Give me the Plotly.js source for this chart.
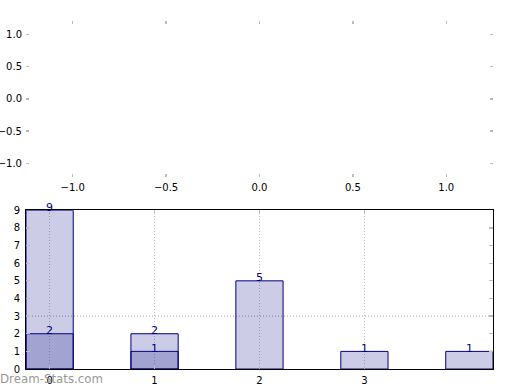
<!DOCTYPE html>
<html>
<head>
<meta charset="utf-8">
<script src="https://cdn.plot.ly/plotly-3.0.1.min.js"></script>
<style>html,body{margin:0;padding:0;background:#fff;}#chart{width:520px;height:390px;}</style>
</head>
<body>
<div id="chart"></div>
<script>
// Data
const categories = [0, 1, 2, 3, 4];
const totals = [9, 2, 5, 1, 1];
const subsetCategories = [0, 1];
const subsetValues = [2, 1];
const referenceLevel = 3;
const xTickVals = [0, 1, 2, 3];
const xTickText = ['0', '1', '2', '3'];
const yTickVals = [0, 1, 2, 3, 4, 5, 6, 7, 8, 9];
const topTicks = [-1.0, -0.5, 0.0, 0.5, 1.0];

const navy = '#000080';
const barFill = 'rgba(0,0,128,0.2)';
const font = {family: 'DejaVu Sans', size: 10, color: '#000'};

const traces = [
  {type: 'scatter', x: [], y: [], xaxis: 'x', yaxis: 'y', showlegend: false, hoverinfo: 'skip'},
  {type: 'bar', x: categories, y: totals, width: 0.45, xaxis: 'x2', yaxis: 'y2',
   marker: {color: barFill, line: {color: navy, width: 1}}, showlegend: false},
  {type: 'bar', x: subsetCategories, y: subsetValues, width: 0.45, xaxis: 'x2', yaxis: 'y2',
   marker: {color: barFill, line: {color: navy, width: 1}}, showlegend: false}
];

const annotations = [];
function addLabels(xs, ys) {
  xs.forEach((c, i) => {
    annotations.push({xref: 'x2', yref: 'y2', x: c, y: ys[i], text: String(ys[i]),
      showarrow: false, xanchor: 'center', yanchor: 'middle', yshift: 3,
      font: {family: 'DejaVu Sans', size: 11, color: navy}});
  });
}
addLabels(categories, totals);
addLabels(subsetCategories, subsetValues);
annotations.push({xref: 'paper', yref: 'paper', x: -0.004, y: 0.027, xanchor: 'left', yanchor: 'middle',
  text: 'Dream-Stats.com', showarrow: false,
  font: {family: 'DejaVu Sans', size: 11.8, color: '#999999', weight: 500}});

const tickCol = '#bdbdbd';
const gridDash = '1px,2px';
const layout = {
  width: 520, height: 390,
  margin: {l: 0, r: 0, t: 0, b: 0},
  paper_bgcolor: '#fff', plot_bgcolor: 'rgba(0,0,0,0)',
  font: font,
  barmode: 'overlay',
  xaxis: {domain: [0.05, 0.948], range: [-1.25, 1.25], tickvals: topTicks, tickformat: '.1f',
    showgrid: false, zeroline: false, showline: false, ticks: 'inside', ticklen: 3, tickwidth: 1.3,
    tickcolor: tickCol, mirror: 'ticks', anchor: 'y', ticklabelstandoff: 3},
  yaxis: {domain: [0.547, 0.946], range: [-1.21, 1.21], tickvals: topTicks, tickformat: '.1f',
    showgrid: false, zeroline: false, showline: false, ticks: 'inside', ticklen: 3, tickwidth: 1.3,
    tickcolor: tickCol, mirror: 'ticks', anchor: 'x', ticklabelstandoff: 3},
  xaxis2: {domain: [0.05, 0.948], range: [-0.225, 4.225], tickvals: xTickVals, ticktext: xTickText,
    showgrid: true, gridcolor: '#c0c0c0', griddash: gridDash, gridwidth: 1, zeroline: false,
    showline: true, linecolor: '#000', linewidth: 1, mirror: 'all', ticks: 'inside', ticklen: 3,
    tickwidth: 1.3, tickcolor: tickCol, anchor: 'y2', ticklabelstandoff: 2},
  yaxis2: {domain: [0.0538, 0.4608], range: [0, 9], tickvals: yTickVals,
    showgrid: false, zeroline: false, showline: true, linecolor: '#000', linewidth: 1, mirror: 'all',
    ticks: 'inside', ticklen: 4, tickwidth: 1.3, tickcolor: tickCol, anchor: 'x2', ticklabelstandoff: 3},
  shapes: [{type: 'line', xref: 'x2 domain', yref: 'y2', x0: 0, x1: 1, y0: referenceLevel, y1: referenceLevel,
    line: {color: '#b4b4b4', width: 1.2, dash: gridDash}, layer: 'below'}],
  annotations: annotations
};

Plotly.newPlot('chart', traces, layout, {staticPlot: true});
</script>
</body>
</html>
